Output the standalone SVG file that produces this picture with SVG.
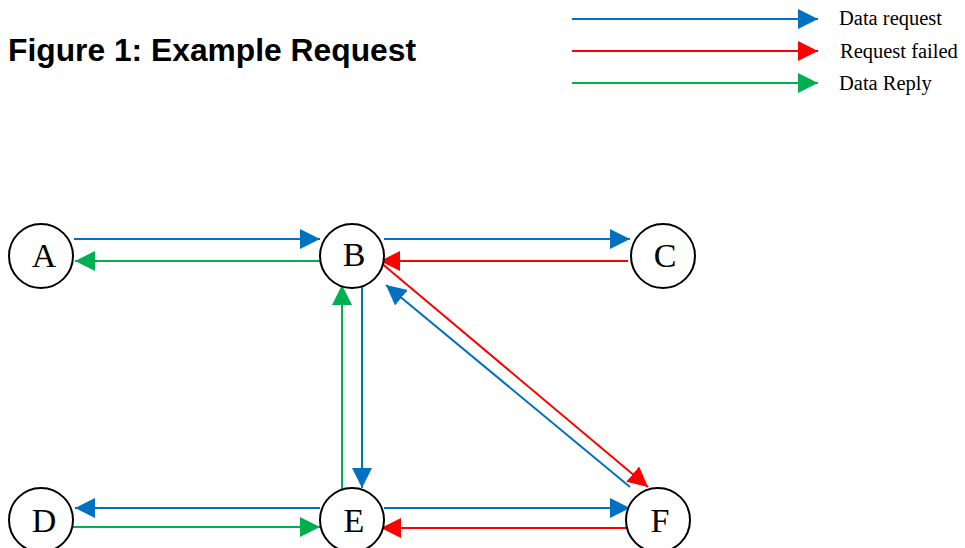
<svg xmlns="http://www.w3.org/2000/svg" width="965" height="548" viewBox="0 0 965 548">
  <style>
    .node circle { fill: #ffffff; stroke: #000000; stroke-width: 2; }
    .node text { font-family: "Liberation Serif", "Times New Roman", serif; font-size: 34px; fill: #000000; text-anchor: middle; }
    .legend text { font-family: "Liberation Serif", "Times New Roman", serif; font-size: 20.5px; fill: #000000; }
    .title { font-family: "Liberation Sans", Arial, sans-serif; font-size: 31px; font-weight: bold; fill: #000000; }
    .req { stroke: #0070C0; stroke-width: 2; fill: none; marker-end: url(#head-req); }
    .fail { stroke: #FF0000; stroke-width: 2; fill: none; marker-end: url(#head-fail); }
    .reply { stroke: #00B050; stroke-width: 2; fill: none; marker-end: url(#head-reply); }
  </style>
  <defs>
    <marker id="head-req" markerUnits="userSpaceOnUse" markerWidth="20" markerHeight="20" refX="20" refY="10" orient="auto" viewBox="0 0 20 20">
      <path d="M0,0 L20,10 L0,20 Z" fill="#0070C0"/>
    </marker>
    <marker id="head-fail" markerUnits="userSpaceOnUse" markerWidth="20" markerHeight="20" refX="20" refY="10" orient="auto" viewBox="0 0 20 20">
      <path d="M0,0 L20,10 L0,20 Z" fill="#FF0000"/>
    </marker>
    <marker id="head-reply" markerUnits="userSpaceOnUse" markerWidth="20" markerHeight="20" refX="20" refY="10" orient="auto" viewBox="0 0 20 20">
      <path d="M0,0 L20,10 L0,20 Z" fill="#00B050"/>
    </marker>
  </defs>

  <rect width="965" height="548" fill="#ffffff"/>

  <text class="title" x="8" y="61" textLength="408" lengthAdjust="spacingAndGlyphs">Figure 1: Example Request</text>

  <!-- legend -->
  <g id="legend" class="legend">
    <line class="req" x1="572" y1="19" x2="818" y2="19"/>
    <line class="fail" x1="572" y1="51" x2="818" y2="51"/>
    <line class="reply" x1="572" y1="83" x2="818" y2="83"/>
    <text x="839" y="25">Data request</text>
    <text x="840" y="58">Request failed</text>
    <text x="839" y="90">Data Reply</text>
  </g>

  <!-- connectors -->
  <g id="connectors">
    <line class="req" x1="74" y1="239" x2="320" y2="239"/>
    <line class="reply" x1="320" y1="261" x2="75" y2="261"/>
    <line class="req" x1="384" y1="239" x2="630" y2="239"/>
    <line class="fail" x1="628" y1="261" x2="380" y2="261"/>
    <line class="req" x1="362" y1="283" x2="362" y2="488"/>
    <line class="reply" x1="342" y1="490" x2="342" y2="285"/>
    <line class="fail" x1="380" y1="262" x2="648" y2="487"/>
    <line class="req" x1="630" y1="487" x2="386" y2="285"/>
    <line class="req" x1="320" y1="508" x2="75" y2="508"/>
    <line class="reply" x1="73" y1="527" x2="320" y2="527"/>
    <line class="req" x1="384" y1="508" x2="630" y2="508"/>
    <line class="fail" x1="626" y1="528" x2="381" y2="528"/>
  </g>

  <!-- nodes -->
  <g id="node-A" class="node"><circle cx="41" cy="256" r="32"/><text x="44" y="267">A</text></g>
  <g id="node-B" class="node"><circle cx="352" cy="256" r="32"/><text x="354" y="266">B</text></g>
  <g id="node-C" class="node"><circle cx="663" cy="256" r="32"/><text x="665" y="267">C</text></g>
  <g id="node-D" class="node"><circle cx="41" cy="520" r="32"/><text x="44" y="532">D</text></g>
  <g id="node-E" class="node"><circle cx="352" cy="520" r="32"/><text x="354" y="532">E</text></g>
  <g id="node-F" class="node"><circle cx="658" cy="520" r="32"/><text x="660" y="532">F</text></g>
</svg>
